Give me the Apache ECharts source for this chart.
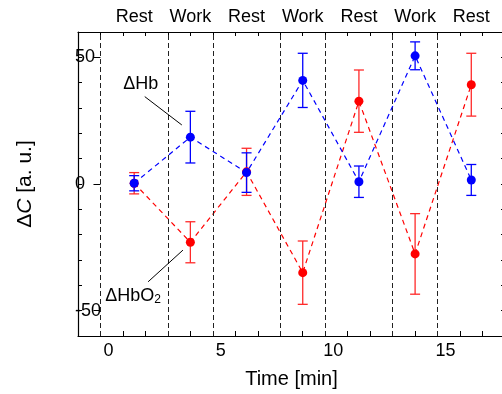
<!DOCTYPE html>
<html>
<head>
<meta charset="utf-8">
<style>html,body{margin:0;padding:0;background:#fff}#c{width:502px;height:394px}</style>
<script src="https://cdn.jsdelivr.net/npm/echarts@6/dist/echarts.min.js"></script>
</head>
<body>
<div id="c"></div>
<script>
// Data
const times = [1.5, 4, 6.5, 9, 11.5, 14, 16.5];
const phases = ['Rest', 'Work', 'Rest', 'Work', 'Rest', 'Work', 'Rest'];
const boundaries = [0, 3, 5, 8, 10, 13, 15];
const hb = [0.3, 18.5, 4.5, 40.9, 0.9, 50.6, 1.6];
const hbErr = [3.0, 10.2, 7.8, 10.7, 6.2, 5.5, 6.1];
const hbo2 = [0.3, -23.0, 4.8, -35.0, 32.7, -27.6, 39.2];
const hbo2Err = [4.2, 8.1, 9.3, 12.5, 12.3, 15.9, 12.4];
const xTickLabels = [0, 5, 10, 15];
const yTickLabels = [-50, 0, 50];

const FONT = 'Liberation Sans';
const xMinorTicks = [];
for (let v = -1; v <= 18; v++) xMinorTicks.push(v);
const yMinorTicks = [];
for (let v = -60; v <= 60; v += 10) yMinorTicks.push(v);

function errSeries(vals, errs, color) {
  return {
    type: 'custom',
    xAxisIndex: 0, yAxisIndex: 0,
    data: times.map((t, i) => [t, vals[i] - errs[i], vals[i] + errs[i]]),
    renderItem: function (params, api) {
      const lo = api.coord([api.value(0), api.value(1)]);
      const hi = api.coord([api.value(0), api.value(2)]);
      const w = 5;
      const st = { stroke: color, lineWidth: 1.3 };
      return {
        type: 'group',
        children: [
          { type: 'line', shape: { x1: lo[0], y1: lo[1], x2: hi[0], y2: hi[1] }, style: st },
          { type: 'line', shape: { x1: lo[0] - w, y1: lo[1], x2: lo[0] + w, y2: lo[1] }, style: st },
          { type: 'line', shape: { x1: hi[0] - w, y1: hi[1], x2: hi[0] + w, y2: hi[1] }, style: st }
        ]
      };
    },
    z: 3
  };
}

const chart = echarts.init(document.getElementById('c'), null, { renderer: 'canvas' });
const option = {
  animation: false,
  textStyle: { fontFamily: FONT },
  grid: { left: 78, width: 427, top: 32, bottom: 58, outerBoundsMode: 'none', containLabel: false },
  xAxis: [
    {
      type: 'value', position: 'bottom', min: -1, max: 18,
      name: 'Time [min]', nameLocation: 'middle', nameGap: 33,
      nameTextStyle: { fontFamily: FONT, fontSize: 20, color: '#000' },
      axisLine: { show: true, onZero: false, lineStyle: { color: '#000', width: 1.2 } },
      axisTick: { show: true, inside: true, length: 5, customValues: xMinorTicks, lineStyle: { color: '#000' } },
      axisLabel: {
        show: true, customValues: xTickLabels, margin: 6,
        fontFamily: FONT, fontSize: 18, color: '#000', padding: [0, 0, 0, 16]
      },
      splitLine: { show: false }
    },
    {
      type: 'value', position: 'top', min: -1, max: 18,
      axisLine: { show: true, onZero: false, lineStyle: { color: '#000', width: 1.2 } },
      axisTick: { show: true, inside: true, length: 4, customValues: xMinorTicks, lineStyle: { color: '#000' } },
      axisLabel: {
        show: true, customValues: times, margin: 6,
        fontFamily: FONT, fontSize: 18, color: '#000',
        formatter: function (v) { const i = times.indexOf(v); return i >= 0 ? phases[i] : ''; }
      },
      splitLine: { show: false }
    }
  ],
  yAxis: [
    {
      type: 'value', position: 'left', min: -60, max: 60,
      name: '{d|Δ}{i|C}{d| [a. u.]}', nameLocation: 'middle', nameGap: 42, nameRotate: 90,
      nameTextStyle: {
        color: '#000',
        rich: {
          d: { fontFamily: FONT, fontSize: 21, color: '#000' },
          i: { fontFamily: FONT, fontSize: 21, fontStyle: 'italic', color: '#000' }
        }
      },
      axisLine: { show: true, onZero: false, lineStyle: { color: '#000', width: 1.2 } },
      axisTick: { show: true, inside: true, length: 4, customValues: yMinorTicks, lineStyle: { color: '#000' } },
      axisLabel: {
        show: true, inside: true, margin: -3, customValues: yTickLabels,
        fontFamily: FONT, fontSize: 18, color: '#000'
      },
      splitLine: { show: false }
    },
    {
      type: 'value', position: 'right', min: -60, max: 60,
      axisLine: { show: true, onZero: false, lineStyle: { color: '#000', width: 1.2 } },
      axisTick: { show: true, inside: true, length: 4, customValues: yMinorTicks, lineStyle: { color: '#000' } },
      axisLabel: { show: false },
      splitLine: { show: false }
    },
    {
      type: 'value', position: 'right', min: -60, max: 60,
      axisLine: { show: false },
      axisTick: { show: true, inside: true, length: 7, customValues: yTickLabels, lineStyle: { color: '#000' } },
      axisLabel: { show: false },
      splitLine: { show: false }
    }
  ],
  series: [
    {
      type: 'line', data: [], xAxisIndex: 0, yAxisIndex: 0,
      markLine: {
        silent: true, symbol: 'none', label: { show: false },
        lineStyle: { color: '#222', type: [5, 3], width: 1 },
        data: boundaries.map(b => ({ xAxis: b }))
      },
      z: 1
    },
    {
      type: 'line', data: [], xAxisIndex: 0, yAxisIndex: 0,
      markLine: {
        silent: true, symbol: ['none', 'arrow'], symbolSize: [0, 8], label: { show: false },
        lineStyle: { color: '#000', type: 'solid', width: 1 },
        data: [
          [{ coord: [1.97, 34.5] }, { coord: [3.62, 23.3] }],
          [{ coord: [2.12, -38.6] }, { coord: [3.67, -26.1] }]
        ]
      },
      markPoint: {
        silent: true, symbol: 'circle', symbolSize: 0,
        label: {
          show: true, position: 'inside', color: '#000',
          rich: {
            t: { fontFamily: FONT, fontSize: 18, color: '#000' },
            s: { fontFamily: FONT, fontSize: 12, color: '#000', verticalAlign: 'bottom', padding: [8, 0, 0, 0] }
          }
        },
        data: [
          { coord: [1.79, 39.5], label: { formatter: '{t|ΔHb}' } },
          { coord: [1.45, -44.2], label: { formatter: '{t|ΔHbO}{s|2}' } }
        ]
      },
      z: 2
    },
    errSeries(hbo2, hbo2Err, '#ff2a2a'),
    {
      name: 'ΔHbO2', type: 'line', xAxisIndex: 0, yAxisIndex: 0,
      data: times.map((t, i) => [t, hbo2[i]]),
      symbol: 'circle', symbolSize: 9,
      itemStyle: { color: '#ff0000' },
      lineStyle: { color: '#ff0000', width: 1.2, type: [5, 4] },
      z: 4
    },
    errSeries(hb, hbErr, '#0000ff'),
    {
      name: 'ΔHb', type: 'line', xAxisIndex: 0, yAxisIndex: 0,
      data: times.map((t, i) => [t, hb[i]]),
      symbol: 'circle', symbolSize: 9,
      itemStyle: { color: '#0000ff' },
      lineStyle: { color: '#0000ff', width: 1.2, type: [5, 4] },
      z: 5
    }
  ]
};
chart.setOption(option);
</script>
</body>
</html>
